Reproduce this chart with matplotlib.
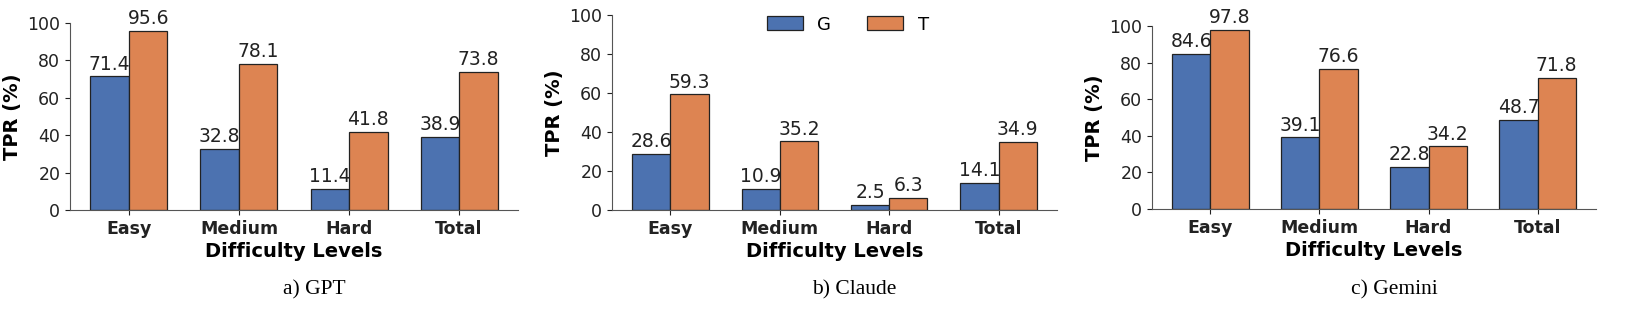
import numpy as np
import matplotlib
matplotlib.use("Agg")
import matplotlib.pyplot as plt

levels = ["Easy", "Medium", "Hard", "Total"]
series = ["G", "T"]
gpt_g = [71.4, 32.8, 11.4, 38.9]
gpt_t = [95.6, 78.1, 41.8, 73.8]
claude_g = [28.6, 10.9, 2.5, 14.1]
claude_t = [59.3, 35.2, 6.3, 34.9]
gemini_g = [84.6, 39.1, 22.8, 48.7]
gemini_t = [97.8, 76.6, 34.2, 71.8]
captions = ["a) GPT", "b) Claude", "c) Gemini"]

BLUE = "#4C72B0"
ORANGE = "#DD8452"
W, H = 1627, 317

fig = plt.figure(figsize=(W / 100, H / 100), dpi=100)

# axes boxes in pixels: left, top, right, bottom
boxes = [(70, 23, 518, 210), (612, 15, 1057, 210), (1152, 26, 1596, 209)]
data = [(gpt_g, gpt_t), (claude_g, claude_t), (gemini_g, gemini_t)]
x = np.arange(len(levels))
width = 0.35

for i, (box, (g, t)) in enumerate(zip(boxes, data)):
    l, tp, r, b = box
    ax = fig.add_axes([l / W, 1 - b / H, (r - l) / W, (b - tp) / H])
    b1 = ax.bar(x - width / 2, g, width, color=BLUE, edgecolor="#222222", linewidth=0.9, label=series[0])
    b2 = ax.bar(x + width / 2, t, width, color=ORANGE, edgecolor="#222222", linewidth=0.9, label=series[1])
    for bars in (b1, b2):
        for rect in bars:
            h = rect.get_height()
            ax.annotate(f"{h:.1f}", (rect.get_x() + rect.get_width() / 2, h),
                        xytext=(0, 2), textcoords="offset points",
                        ha="center", va="bottom", fontsize=13.5, color="#222222")
    ax.set_ylim(0, 100)
    ax.set_yticks([0, 20, 40, 60, 80, 100])
    ax.tick_params(axis="y", labelsize=12.5, colors="#222222", length=3.5)
    ax.tick_params(axis="x", length=3.5, colors="#222222")
    ax.set_xticks(x)
    ax.set_xticklabels(levels, fontsize=12.5, fontweight="bold")
    ax.set_ylabel("TPR (%)", fontsize=14, fontweight="bold", labelpad=4)
    ax.set_xlabel("Difficulty Levels", fontsize=14, fontweight="bold", labelpad=3)
    for s in ("top", "right"):
        ax.spines[s].set_visible(False)
    for s in ("left", "bottom"):
        ax.spines[s].set_color("#555555")
    if i == 1:
        ax.legend(loc="upper center", ncol=2, frameon=False, fontsize=13,
                  handlelength=2.0, handleheight=0.8, columnspacing=2.0,
                  bbox_to_anchor=(0.53, 1.08))
    fig.text(((l + r) / 2 + 20) / W, 1 - 290 / H, captions[i], ha="center", va="center",
             fontsize=15.5, family="Liberation Serif")

fig.savefig("out.png", dpi=100)
